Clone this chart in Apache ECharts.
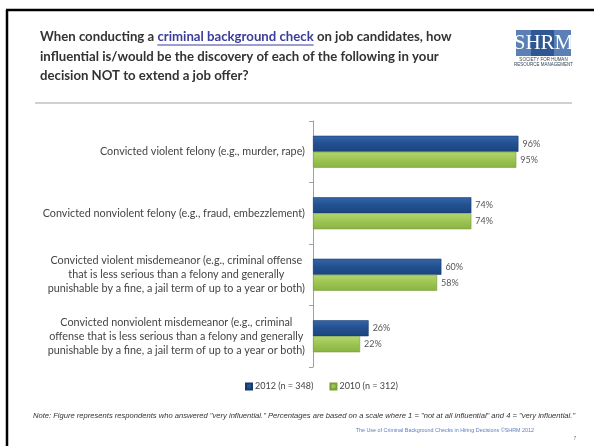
<!DOCTYPE html>
<html>
<head>
<meta charset="utf-8">
<script src="https://cdn.jsdelivr.net/npm/echarts@6/dist/echarts.min.js"></script>
<style>
html,body{margin:0;padding:0;background:#fff;}
#c{width:594px;height:446px;}
</style>
</head>
<body>
<div id="c"></div>
<script>
const categories = [
  'Convicted violent felony (e.g., murder, rape)',
  'Convicted nonviolent felony (e.g., fraud, embezzlement)',
  'Convicted violent misdemeanor (e.g., criminal offense\nthat is less serious than a felony and generally\npunishable by a fine, a jail term of up to a year or both)',
  'Convicted nonviolent misdemeanor (e.g., criminal\noffense that is less serious than a felony and generally\npunishable by a fine, a jail term of up to a year or both)'
];
const values2012 = [96, 74, 60, 26];
const values2010 = [95, 74, 58, 22];
const seriesNames = ['2012 (n = 348)', '2010 (n = 312)'];

const titleLines = [
  ['When conducting a ', 'criminal background check', ' on job candidates, how'],
  ['influential is/would be the discovery of each of the following in your'],
  ['decision NOT to extend a job offer?']
];
const noteText = 'Note: Figure represents respondents who answered "very influential." Percentages are based on a scale where 1 = "not at all influential" and 4 = "very influential."';
const sourceText = 'The Use of Criminal Background Checks in Hiring Decisions \u00A9SHRM 2012';

const chart = echarts.init(document.getElementById('c'), null, {renderer: 'canvas'});

const titleFont = 'bold 13.2px Lato';
const mc = document.createElement('canvas').getContext('2d');
mc.font = titleFont;
const w0 = mc.measureText(titleLines[0][0]).width;
const w1 = mc.measureText(titleLines[0][1]).width;

const graphics = [
  {type:'line', shape:{x1:7, y1:10, x2:7, y2:446}, style:{stroke:'#000', lineWidth:2.5}},
  {type:'line', shape:{x1:6, y1:10, x2:594, y2:10}, style:{stroke:'#000', lineWidth:2.5}},
  {type:'text', left:40, top:30, style:{
    text:'{a|' + titleLines[0][0] + '}{u|' + titleLines[0][1] + '}{a|' + titleLines[0][2] + '}',
    rich:{a:{font:titleFont, fill:'#333'}, u:{font:titleFont, fill:'#3b3d9a'}}
  }},
  {type:'line', shape:{x1:40 + w0, y1:45, x2:40 + w0 + w1, y2:45}, style:{stroke:'#3b3d9a', lineWidth:1}},
  {type:'text', left:40, top:50, style:{text:titleLines[1][0], font:titleFont, fill:'#333'}},
  {type:'text', left:40, top:69, style:{text:titleLines[2][0], font:titleFont, fill:'#333'}},
  {type:'line', shape:{x1:35, y1:103, x2:572, y2:103}, style:{stroke:'#d0d0d0', lineWidth:2}},
  {type:'rect', shape:{x:516, y:30, width:55, height:26}, style:{fill:'#5a80b5'}},
  {type:'rect', shape:{x:531, y:30, width:23, height:26}, style:{fill:'#2f5792'}},
  {type:'text', x:543.5, y:43.5, style:{text:'SHRM', font:'21px "Liberation Serif"', fill:'#fff', align:'center', verticalAlign:'middle'}},
  {type:'text', x:543.5, y:60, style:{text:'SOCIETY FOR HUMAN', font:'4.5px "Liberation Sans"', fill:'#345', align:'center', verticalAlign:'middle'}},
  {type:'text', x:543.5, y:65, style:{text:'RESOURCE MANAGEMENT', font:'4.5px "Liberation Sans"', fill:'#345', align:'center', verticalAlign:'middle'}},
  {type:'text', x:304, y:416, style:{text:noteText, font:'italic 7.6px "Liberation Sans"', fill:'#333', align:'center', verticalAlign:'middle'}},
  {type:'text', x:534, y:431, style:{text:sourceText, font:'5.4px "Liberation Sans"', fill:'#5f80c0', align:'right', verticalAlign:'middle'}},
  {type:'text', x:575, y:439, style:{text:'7', font:'5px "Liberation Sans"', fill:'#777', align:'center', verticalAlign:'middle'}}
];

const option = {
  animation: false,
  backgroundColor: '#fff',
  grid: {left: 313, right: 67, top: 121, bottom: 79, containLabel: false},
  legend: {
    data: seriesNames,
    top: 377,
    left: 240,
    itemWidth: 6,
    itemHeight: 6,
    itemGap: 16,
    icon: 'rect',
    textStyle: {fontFamily: 'Lato', fontSize: 9, color: '#444', padding: [0,0,0,-2]}
  },
  xAxis: {type: 'value', min: 0, max: 100, show: false},
  yAxis: {
    type: 'category',
    data: categories,
    inverse: true,
    axisLine: {show: true, lineStyle: {color: '#a0a0a0', width: 1}},
    axisTick: {show: true, inside: false, length: 4, lineStyle: {color: '#a0a0a0'}},
    axisLabel: {
      margin: 8,
      fontFamily: 'Lato',
      fontSize: 10.8,
      color: '#444',
      lineHeight: 14,
      formatter: function (v) {
        return v.split('\n').map(l => '{c|' + l + '}').join('\n');
      },
      rich: {c: {align: 'center', fontFamily: 'Lato', fontSize: 10.8, color: '#444', lineHeight: 14}}
    }
  },
  series: [
    {
      name: seriesNames[0], type: 'bar', data: values2012,
      barWidth: 16, barGap: '0%',
      itemStyle: {
        color: new echarts.graphic.LinearGradient(0,0,0,1,[{offset:0,color:'#3566a8'},{offset:0.5,color:'#22508f'},{offset:1,color:'#1b4580'}]),
        borderColor: '#173a6c', borderWidth: 0.6
      },
      label: {show: true, position: 'right', distance: 4, formatter: '{c}%', fontFamily: 'Lato', fontSize: 9, color: '#555'}
    },
    {
      name: seriesNames[1], type: 'bar', data: values2010,
      barWidth: 16,
      itemStyle: {
        color: new echarts.graphic.LinearGradient(0,0,0,1,[{offset:0,color:'#b3d66e'},{offset:0.5,color:'#9cc453'},{offset:1,color:'#8ab343'}]),
        borderColor: '#7a9e3a', borderWidth: 0.6
      },
      label: {show: true, position: 'right', distance: 4, formatter: '{c}%', fontFamily: 'Lato', fontSize: 9, color: '#555'}
    }
  ],
  graphic: graphics
};
chart.setOption(option);
</script>
</body>
</html>
